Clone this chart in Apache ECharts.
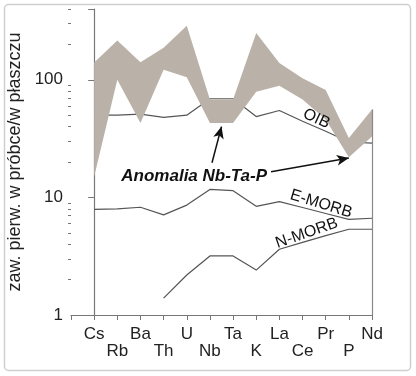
<!DOCTYPE html>
<html>
<head>
<meta charset="utf-8">
<script src="https://cdn.jsdelivr.net/npm/echarts@6/dist/echarts.min.js"></script>
<style>
  html, body { margin: 0; padding: 0; background: #fff; }
  #chart { width: 416px; height: 376px; }
</style>
</head>
<body>
<div id="chart"></div>
<script>
// pierwiastki na osi X
var elements = ['Cs', 'Rb', 'Ba', 'Th', 'U', 'Nb', 'Ta', 'K', 'La', 'Ce', 'Pr', 'P', 'Nd'];
// pole próbek (szary obszar) - górna i dolna granica
var bandUpper = [140, 216, 141, 187, 288, 68, 68, 250, 139, 103, 82, 32, 56];
var bandLower = [15, 100, 43, 122, 105, 43, 43, 79, 89, 68, 46, 22, 33];
// wzorce
var oib = [50, 50, 51, 48, 50, 69, 69, 48.7, 54.8, 44.4, 36.5, 29.6, 28.9];
var emorb = [7.9, 8.0, 8.25, 7.1, 8.6, 11.7, 11.4, 8.4, 9.2, 8.2, 7.3, 6.5, 6.65];
var nmorb = [null, null, null, 1.39, 2.19, 3.18, 3.18, 2.41, 3.62, 4.14, 4.73, 5.36, 5.36];
// opisy osi Y
var yLabels = [1, 10, 100];
var yMinor = [2, 3, 4, 5, 6, 7, 8, 9, 20, 30, 40, 50, 60, 70, 80, 90, 200, 300, 400];

var FONT = '"Liberation Sans", Arial, sans-serif';
var chart = echarts.init(document.getElementById('chart'), null, { renderer: 'canvas' });

function pairs(arr) {
  return arr.map(function (v, i) { return [i, v]; });
}

var lineStyle = { color: '#555', width: 1.2 };

var option = {
  animation: false,
  grid: { left: 71, right: 44, top: 9, bottom: 61, containLabel: false, outerBoundsMode: 'none' },
  xAxis: {
    type: 'value', min: -1, max: elements.length - 1, interval: 1,
    axisLine: { lineStyle: { color: '#777', width: 1.2 } },
    axisTick: { length: 5, lineStyle: { color: '#777' } },
    splitLine: { show: false },
    axisLabel: {
      margin: 11, fontSize: 17, lineHeight: 17, color: '#222', fontFamily: FONT,
      formatter: function (v) {
        if (v < 0) return '';
        return (v % 2 ? '\n' : '') + elements[v];
      }
    }
  },
  yAxis: [{
    type: 'log', logBase: 10, min: 1, max: 400,
    name: 'zaw. pierw. w próbce/w płaszczu', nameLocation: 'middle', nameGap: 35,
    nameTextStyle: { fontSize: 18, color: '#222', fontFamily: FONT },
    axisLine: { show: true, lineStyle: { color: '#777', width: 1.2 } },
    axisTick: { show: true, length: 6, lineStyle: { color: '#777' } },
    splitLine: { show: false },
    axisLabel: {
      margin: 8, fontSize: 17, color: '#222', fontFamily: FONT,
      formatter: function (v) {
        var r = Math.round(v);
        return yLabels.indexOf(r) >= 0 ? String(r) : '';
      }
    }
  }, {
    // drobne podziałki 2..9 w każdej dekadzie
    type: 'value', min: 0, max: Math.log10(400), position: 'left',
    axisLine: { show: false },
    axisLabel: { show: false },
    splitLine: { show: false },
    axisTick: { show: true, length: 3, lineStyle: { color: '#777' }, customValues: yMinor.map(Math.log10) }
  }],
  series: [
    { name: 'OIB', type: 'line', data: pairs(oib), symbol: 'none', lineStyle: lineStyle, z: 2 },
    { name: 'E-MORB', type: 'line', data: pairs(emorb), symbol: 'none', lineStyle: lineStyle, z: 2 },
    { name: 'N-MORB', type: 'line', data: pairs(nmorb), symbol: 'none', lineStyle: lineStyle, z: 2 },
    {
      name: 'pole', type: 'custom', z: 3,
      data: bandUpper.map(function (v, i) { return [i, bandLower[i], v]; }),
      encode: { x: 0, y: [1, 2] },
      renderItem: function (params, api) {
        if (params.dataIndex !== 0) return;
        var pts = [];
        for (var i = 0; i < bandUpper.length; i++) pts.push(api.coord([i, bandUpper[i]]));
        for (var j = bandLower.length - 1; j >= 0; j--) pts.push(api.coord([j, bandLower[j]]));
        return { type: 'polygon', shape: { points: pts }, style: { fill: '#bab2a9' } };
      }
    },
    {
      // strzałki
      name: 'adnotacje', type: 'line', data: [], z: 5,
      markLine: {
        silent: true,
        label: { show: false },
        data: [
          [{ coord: [5.09, 19.7], symbol: 'none' }, { coord: [5.5, 40], symbol: 'arrow', symbolSize: [8, 12] }],
          [{ coord: [7.64, 16.5], symbol: 'none' }, { coord: [11.0, 21.6], symbol: 'arrow', symbolSize: [8, 12] }]
        ],
        lineStyle: { color: '#111', width: 1.5, type: 'solid' }
      }
    },
    {
      // pionowa linia przy Nd
      name: 'Nd', type: 'line', data: [], z: 2,
      markLine: {
        silent: true, symbol: 'none', label: { show: false },
        data: [[{ coord: [12, 1] }, { coord: [12, bandUpper[12]] }]],
        lineStyle: { color: '#888', width: 1.2, type: 'solid' }
      }
    }
  ]
};
chart.setOption(option);

function px(x, y) {
  return chart.convertToPixel({ xAxisIndex: 0, yAxisIndex: 0 }, [x, y]);
}
function txt(x, y, text, rot, font) {
  var p = px(x, y);
  return {
    type: 'text', x: p[0], y: p[1], rotation: rot * Math.PI / 180, z: 10,
    style: { text: text, font: font, fill: '#111', align: 'center', verticalAlign: 'middle' }
  };
}

chart.setOption({
  graphic: [
    {
      type: 'rect', z: -1,
      shape: { x: 4.5, y: 4.5, width: 406, height: 366, r: 4 },
      style: { fill: 'none', stroke: '#cfcfcf', lineWidth: 1.5 }
    },
    txt(4.32, 15.2, 'Anomalia Nb-Ta-P', 0, 'italic bold 17px ' + FONT),
    txt(9.6, 46.6, 'OIB', -25, '16px ' + FONT),
    txt(9.8, 8.8, 'E-MORB', -17, '16px ' + FONT),
    txt(9.18, 4.96, 'N-MORB', 19, '16px ' + FONT)
  ]
});
</script>
</body>
</html>
